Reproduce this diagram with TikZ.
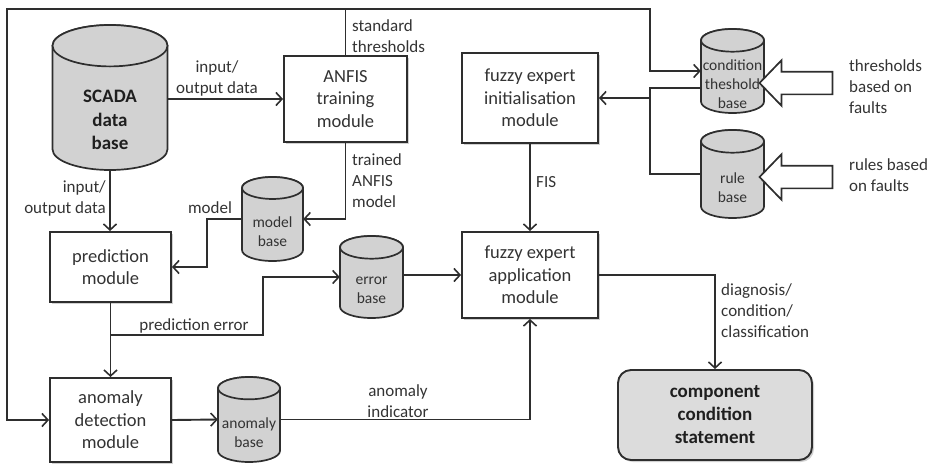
\documentclass[tikz,border=0pt]{standalone}
\usepackage{fontspec}
\setmainfont{Carlito}
\usetikzlibrary{arrows.meta,shapes.arrows,shadows,calc}

\definecolor{linec}{HTML}{2E2E2E}
\definecolor{textc}{HTML}{333333}
\definecolor{cylfill}{HTML}{D2D2D2}
\definecolor{stmtfill}{HTML}{DCDCDC}

\tikzset{
  line/.style={draw=linec, line width=1.9pt},
  arr/.style={line, -{Straight Barb[length=6pt,width=13pt,line width=1.6pt]}},
  module/.style={draw=linec, line width=1.9pt, fill=white, align=center, text=textc,
    font=\fontsize{18.5}{22.5}\selectfont, inner sep=0pt,
    drop shadow={shadow xshift=2pt, shadow yshift=-2pt, opacity=0.3, fill=black!60}},
  stmt/.style={module, fill=stmtfill, rounded corners=13pt, font=\bfseries\fontsize{19}{23}\selectfont, text=black!88},
  cyl/.style={draw=linec, line width=1.7pt, fill=cylfill},
  cyltext/.style={align=center, text=textc, inner sep=0pt},
  smallcyl/.style={cyltext, font=\fontsize{15.5}{19}\selectfont},
  bigcyl/.style={cyltext, font=\bfseries\fontsize{19}{23.5}\selectfont, text=black!88},
  lab/.style={align=left, text=textc, inner sep=0pt, font=\fontsize{17}{21}\selectfont},
  hollow/.style={single arrow, draw=linec, line width=1.7pt, fill=white,
    shape border rotate=180, minimum height=73pt, minimum width=44pt,
    single arrow head extend=11.5pt, single arrow tip angle=92,
    inner xsep=0pt, inner ysep=10.5pt},
}

% database cylinder: name, centre x, top y, bottom y, width, text style, text
\newcommand\dbcyl[7]{%
  \pgfmathsetmacro\cylrx{(#5)/2}%
  \pgfmathsetmacro\cylry{0.18*(#5)}%
  \pgfmathsetmacro\cylL{(#2)-\cylrx}%
  \pgfmathsetmacro\cylR{(#2)+\cylrx}%
  \pgfmathsetmacro\cylT{-(#3)-\cylry}%
  \pgfmathsetmacro\cylB{-(#4)+\cylry}%
  \pgfmathsetmacro\cylM{-((#3)+2*\cylry+(#4))/2-2}%
  \pgfmathsetmacro\cylC{-((#3)+(#4))/2}%
  \pgfmathsetmacro\cylH{(#4)-(#3)}%
  \node[inner sep=0pt, minimum width=#5, minimum height=\cylH] (#1) at (#2,\cylC) {};
  \filldraw[cyl] (\cylL,\cylT) -- (\cylL,\cylB)
     arc[start angle=180, end angle=360, x radius=\cylrx, y radius=\cylry]
     -- (\cylR,\cylT)
     arc[start angle=0, end angle=180, x radius=\cylrx, y radius=\cylry] -- cycle;
  \draw[cyl] (#2,\cylT) ellipse[x radius=\cylrx, y radius=\cylry];
  \node[#6] (#1-txt) at (#2,\cylM) {#7};
}

\begin{document}
\begin{tikzpicture}[x=1pt, y=1pt]
\useasboundingbox (0,0) rectangle (936,-464);

% modules
\node[module, minimum width=123, minimum height=86] (anfis) at (345.5,-99) {ANFIS\\training\\module};
\node[module, minimum width=136, minimum height=90] (finit) at (530,-98) {fuzzy expert\\initialisation\\module};
\node[module, minimum width=136, minimum height=86] (fapp) at (530,-275) {fuzzy expert\\application\\module};
\node[module, minimum width=121, minimum height=70] (pred) at (110.5,-267) {prediction\\module};
\node[module, minimum width=121, minimum height=84] (anom) at (110.5,-420) {anomaly\\detection\\module};
\node[stmt, minimum width=194, minimum height=90] (comp) at (715,-415) {component\\condition\\statement};

% data bases
\dbcyl{scada}{110}{25}{170}{115}{bigcyl}{SCADA\\data\\base}
\dbcyl{model}{272.5}{177}{261}{61}{smallcyl}{model\\base}
\dbcyl{error}{371.5}{236}{318}{63}{smallcyl}{error\\base}
\dbcyl{anombase}{249}{377}{462}{62}{smallcyl}{anomaly\\base}
\dbcyl{cthr}{732.5}{29}{113}{63}{smallcyl}{condition\\theshold\\base}
\dbcyl{rule}{732.5}{130}{218}{63}{smallcyl}{rule\\base}

% routing points
\coordinate (tl) at (7,-9);
\coordinate (tr) at (650,-9);
\coordinate (junc) at (650,-98);
\coordinate (pe) at (110.5,-335);
\coordinate (pebend) at (263,-335);

% standard thresholds loop
\draw[line] (anfis.north) -- (anfis.north |- tl);
\draw[arr] (anfis.north |- tl) -- (tl) |- (anom.west);
\draw[arr] (anfis.north |- tl) -- (tr) |- (cthr.west);

% knowledge bases to initialisation
\draw[arr] ([yshift=-17pt]cthr.west) -| (junc) -- (finit.east);
\draw[line] (rule.west) -| (junc);
\draw[arr] (finit.south) -- (fapp.north);

% data flow
\draw[arr] (scada.east |- anfis.west) -- (anfis.west);
\draw[arr] (scada.south) -- (scada.south |- pred.north);
\draw[arr] (anfis.south) |- (model.east);
\draw[arr] (model.west) -- ++(-35,0) |- (pred.east);
\draw[arr] (pred.south) -- (anom.north);
\draw[arr] (pe) -- (pebend) |- (error.west);
\draw[arr] (error.east |- fapp.west) -- (fapp.west);
\draw[arr] (anom.east) -- (anombase.west);
\draw[arr] (anombase.east) -| (fapp.south);
\draw[arr] (fapp.east) -| (comp.north);

% external inputs
\node[hollow] (thrin) at (801.5,-83) {};
\node[hollow] (rulein) at (801.5,-177) {};

% labels
\node[lab, anchor=west] (lstd) at (352,-36) {standard\\thresholds};
\node[lab, align=center] (lio1) at (217,-78) {input/\\output data};
\node[lab, anchor=west] (ltrained) at (352,-181) {trained\\ANFIS\\model};
\node[lab, anchor=east, align=right] (lio2) at (106,-198) {input/\\output data};
\node[lab] (lmodel) at (210,-208) {model};
\node[lab] (lpe) at (194,-326) {prediction error};
\node[lab, align=center] (lanom) at (398,-401) {anomaly\\indicator};
\node[lab, anchor=west] (lfis) at (536,-182) {FIS};
\node[lab, anchor=west] (ldiag) at (721,-311) {diagnosis/\\condition/\\classification};
\node[lab, anchor=west] (lthr) at (849,-87) {thresholds\\based on\\faults};
\node[lab, anchor=west] (lrules) at (849,-175) {rules based\\on\ faults};
\end{tikzpicture}
\end{document}
